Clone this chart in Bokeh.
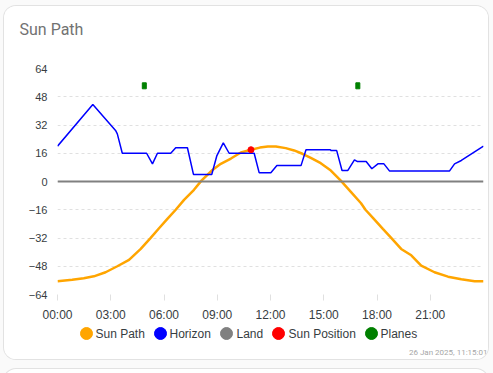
from bokeh.plotting import figure
from bokeh.layouts import column
from bokeh.models import Range1d, FixedTicker
from bokeh.core.properties import value
from bokeh.embed import file_html
from bokeh.resources import INLINE

# ---- data ----
sun_hours = [0.0, 0.83, 1.48, 2.05, 2.71, 3.37, 4.03, 4.69, 5.25, 5.72, 6.19, 6.66,
             7.13, 7.69, 8.11, 8.73, 9.2, 9.77, 10.33, 10.9, 11.4, 11.85, 12.3,
             12.86, 13.33, 13.8, 14.27, 14.83, 15.4, 15.96, 16.54, 17.1, 17.35,
             17.77, 18.33, 18.8, 19.36, 19.93, 20.49, 21.24, 22.0, 22.75, 23.5, 24.0]
sun_elev = [-56.5, -55.7, -54.8, -53.7, -51.4, -48.0, -44.4, -38.2, -31.9, -26.5, -21.2, -16.0,
            -10.4, -4.7, 0.5, 6.5, 10.0, 13.0, 16.4, 18.0, 19.2, 19.8, 19.8,
            18.9, 17.6, 15.7, 13.4, 10.4, 6.2, 0.5, -6.0, -12.3, -16.0,
            -20.6, -26.8, -31.9, -38.2, -41.8, -47.6, -51.4, -53.9, -55.4, -56.5, -56.5]

horizon_hours = [0.0, 1.99, 3.27, 3.37, 3.65, 5.02, 5.35, 5.63, 6.38, 6.66, 7.32, 7.66,
                 8.69, 8.98, 9.34, 9.67, 11.08, 11.36, 12.02, 12.36, 13.72, 14.0, 15.37,
                 15.42, 15.73, 16.03, 16.35, 16.73, 16.9, 17.39, 17.71, 18.05, 18.39,
                 18.7, 22.09, 22.37, 22.75, 24.0]
horizon_elev = [20.0, 43.6, 28.9, 27.0, 16.0, 16.0, 10.0, 16.0, 16.0, 19.1, 19.1, 4.0,
                4.0, 14.7, 21.9, 16.0, 16.0, 5.0, 5.0, 9.0, 9.0, 18.0, 18.0,
                17.5, 17.5, 6.2, 6.2, 12.3, 11.3, 11.3, 7.2, 10.0, 10.0,
                6.0, 6.0, 10.0, 11.9, 20.0]

land_hours = [0.0, 24.0]
land_elev = [0.0, 0.0]

sunpos_hours = [10.9]
sunpos_elev = [18.0]

plane_hours = [4.89, 16.92]
plane_elev = [54.2, 54.2]

x_ticks = [0, 3, 6, 9, 12, 15, 18, 21]
x_tick_labels = ["00:00", "03:00", "06:00", "09:00", "12:00", "15:00", "18:00", "21:00"]
y_ticks = [-64, -48, -32, -16, 0, 16, 32, 48, 64]

series_names = ["Sun Path", "Horizon", "Land", "Sun Position", "Planes"]
series_colors = ["#FFA500", "#0000FF", "#808080", "#FF0000", "#008000"]

title_text = "Sun Path"
stamp_text = "26 Jan 2025, 11:15:01"

# ---- layout constants (pixels inside the card) ----
CARD_W = 484
TITLE_H, MAIN_H, FOOT_H = 54, 264, 35
legend_swatch_x = [82, 156, 222, 274, 367]
legend_text_x = [91, 165, 232, 284, 376]
AX_FONT = "Liberation Sans"
TXT = "#373d3f"


def blank(h):
    f = figure(width=CARD_W, height=h, x_range=Range1d(0, CARD_W), y_range=Range1d(h, 0),
               x_axis_type=None, y_axis_type=None, output_backend="svg",
               toolbar_location=None, min_border=0, min_border_left=0, min_border_right=0,
               min_border_top=0, min_border_bottom=0, frame_align=False)
    f.outline_line_color = None
    f.background_fill_color = "white"
    f.border_fill_color = "white"
    f.grid.visible = False
    return f


# ---- title strip ----
t = blank(TITLE_H)
t.text(x=[15], y=[23.3], text=[title_text], text_font=value("Roboto"),
       text_font_size=value("16px"), text_color="#727272", text_baseline="alphabetic")

# ---- main chart ----
p = figure(width=CARD_W, height=MAIN_H, x_range=Range1d(0, 24), y_range=Range1d(-64, 64),
           output_backend="svg", toolbar_location=None, frame_align=False,
           min_border_left=53, min_border_right=5, min_border_top=8, min_border_bottom=30)
p.background_fill_color = "white"
p.border_fill_color = "white"
p.outline_line_color = None

p.xaxis.ticker = FixedTicker(ticks=x_ticks)
p.xaxis.major_label_overrides = {t_: l for t_, l in zip(x_ticks, x_tick_labels)}
p.xaxis.axis_line_color = None
p.xaxis.major_tick_line_color = "#e0e0e0"
p.xaxis.major_tick_out = 6
p.xaxis.major_tick_in = 0
p.xaxis.minor_tick_line_color = None
p.xaxis.major_label_standoff = 7
p.xaxis.major_label_text_font = AX_FONT
p.xaxis.major_label_text_font_size = "12px"
p.xaxis.major_label_text_color = TXT

p.yaxis.ticker = FixedTicker(ticks=y_ticks)
p.yaxis.axis_line_color = None
p.yaxis.major_tick_line_color = None
p.yaxis.major_tick_out = 0
p.yaxis.major_tick_in = 0
p.yaxis.minor_tick_line_color = None
p.yaxis.major_label_standoff = 10
p.yaxis.major_label_text_font = AX_FONT
p.yaxis.major_label_text_font_size = "11px"
p.yaxis.major_label_text_color = TXT

p.xgrid.visible = False
p.ygrid.ticker = FixedTicker(ticks=y_ticks)
p.ygrid.grid_line_color = "#e0e0e0"
p.ygrid.grid_line_dash = "3 3"
p.ygrid.grid_line_width = 1

p.line(sun_hours, sun_elev, color=series_colors[0], line_width=2.5)
p.line(horizon_hours, horizon_elev, color=series_colors[1], line_width=1.5)
p.line(land_hours, land_elev, color=series_colors[2], line_width=2)
p.scatter(sunpos_hours, sunpos_elev, marker="circle", size=6, color=series_colors[3])
p.rect(plane_hours, plane_elev, width=4, height=6, width_units="screen",
       height_units="screen", color=series_colors[4])

# ---- footer: legend and timestamp ----
b = blank(FOOT_H)
b.scatter(legend_swatch_x, [9] * len(series_names), marker="circle", size=12,
          color=series_colors)
b.text(x=legend_text_x, y=[9] * len(series_names), text=series_names,
       text_font=value(AX_FONT), text_font_size=value("12px"), text_color=TXT,
       text_baseline="middle")
b.text(x=[483], y=[28], text=[stamp_text], text_font=value("Roboto"),
       text_font_size=value("8px"), text_color="#a6a6a6", text_align="right",
       text_baseline="alphabetic")

card = column(t, p, b, spacing=0,
              styles={"margin-left": "4px", "margin-top": "6px", "border-radius": "12px",
                      "overflow": "hidden", "background": "white",
                      "box-shadow": "0 0 0 1px #e2e2e2, 0 363px 0 0 #ffffff, "
                                    "0 363px 0 1px #e2e2e2, 0 0 0 80px #fafafa"})

open("out.html", "w").write(file_html(card, INLINE))
